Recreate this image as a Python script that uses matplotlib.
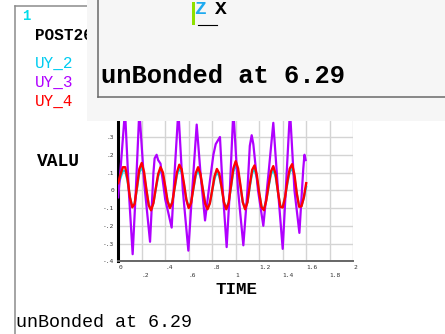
import numpy as np
import matplotlib
matplotlib.use("Agg")
import matplotlib.pyplot as plt
from matplotlib.patches import Rectangle
from matplotlib.lines import Line2D

# sample times of the POST26 variables (s)
time = np.linspace(0, 1.6, 81)

# UY_2 (cyan)
uy2 = [0.03, 0.07, 0.11, 0.11, 0.05, -0.04, -0.092, -0.075, 0.01, 0.10,
       0.13, 0.09, 0.0, -0.082, -0.108, -0.07, 0.008, 0.078, 0.112, 0.088,
       0.018, -0.06, -0.096, -0.068, 0.01, 0.086, 0.123, 0.10, 0.03, -0.052,
       -0.096, -0.07, 0.008, 0.082, 0.112, 0.078, 0.005, -0.073, -0.103, -0.072,
       -0.003, 0.066, 0.103, 0.08, 0.014, -0.066, -0.103, -0.069, 0.018, 0.105,
       0.14, 0.105, 0.023, -0.065, -0.103, -0.067, 0.022, 0.098, 0.12, 0.07,
       -0.016, -0.092, -0.108, -0.057, 0.02, 0.09, 0.116, 0.076, -0.012, -0.09,
       -0.094, -0.04, 0.04, 0.104, 0.125, 0.074, -0.02, -0.09, -0.088, -0.042,
       0.02]

# UY_4 (red)
uy4 = [0.04, 0.09, 0.13, 0.13, 0.06, -0.04, -0.096, -0.076, 0.02, 0.12,
       0.154, 0.104, 0.004, -0.085, -0.113, -0.072, 0.012, 0.091, 0.13, 0.101,
       0.023, -0.061, -0.10, -0.069, 0.014, 0.101, 0.144, 0.118, 0.037, -0.053,
       -0.10, -0.072, 0.012, 0.096, 0.13, 0.092, 0.008, -0.075, -0.107, -0.074,
       0.0, 0.079, 0.12, 0.095, 0.018, -0.068, -0.107, -0.07, 0.024, 0.123,
       0.164, 0.124, 0.029, -0.067, -0.107, -0.068, 0.029, 0.115, 0.14, 0.084,
       -0.014, -0.095, -0.112, -0.058, 0.027, 0.106, 0.136, 0.09, -0.01, -0.093,
       -0.097, -0.039, 0.049, 0.122, 0.147, 0.088, -0.018, -0.093, -0.09, -0.04,
       0.04]

# UY_3 (purple), read at its turning points
uy3_time = [0.0, 0.02, 0.058, 0.09, 0.123, 0.15, 0.18, 0.22, 0.271, 0.30,
            0.31, 0.327, 0.34, 0.36, 0.40, 0.455, 0.48, 0.512, 0.55, 0.597,
            0.63, 0.668, 0.70, 0.739, 0.78, 0.81, 0.83, 0.866, 0.89, 0.923,
            0.95, 0.98, 1.02, 1.065, 1.10, 1.12, 1.136, 1.15, 1.19, 1.235,
            1.28, 1.32, 1.36, 1.40, 1.43, 1.462, 1.50, 1.542, 1.575, 1.585,
            1.595]
uy3 = [-0.04, 0.12, 0.45, 0.0, -0.36, 0.0, 0.45, 0.05, -0.29, 0.1,
       0.18, 0.20, 0.17, 0.15, -0.05, -0.21, 0.1, 0.45, 0.0, -0.34,
       0.0, 0.37, 0.1, -0.17, 0.05, 0.2, 0.26, 0.30, 0.0, -0.32,
       0.0, 0.45, 0.0, -0.31, 0.0, 0.25, 0.31, 0.26, 0.0, -0.20,
       0.1, 0.38, 0.0, -0.33, 0.05, 0.45, 0.0, -0.24, 0.12, 0.2,
       0.17]

x_ticks = [0, 0.2, 0.4, 0.6, 0.8, 1.0, 1.2, 1.4, 1.6, 1.8, 2.0]
x_labels = ["0", "\n.2", ".4", "\n.6", ".8", "\n1", "1.2", "\n1.4", "1.6", "\n1.8", "2"]
y_ticks = [-0.4, -0.3, -0.2, -0.1, 0, 0.1, 0.2, 0.3, 0.4]
y_labels = ["-.4", "-.3", "-.2", "-.1", "0", ".1", ".2", ".3", ".4"]

W, H = 445, 334
MONO = "Liberation Mono"


def fx(x):
    return x / W


def fy(y):
    return 1 - y / H


fig = plt.figure(figsize=(W / 100, H / 100), dpi=100)
fig.patch.set_facecolor("white")

# plot area
ax = fig.add_axes([fx(118.2), fy(261.3), (353.2 - 118.2) / W, (261.3 - 101.5) / H])
ax.set_xlim(0, 2)
ax.set_ylim(-0.4, 0.5)
ax.plot(time, uy2, color="#00e0e8", lw=1.6, zorder=3)
ax.plot(uy3_time, uy3, color="#b000ff", lw=1.6, zorder=4)
ax.plot(time, uy4, color="#ff0000", lw=1.7, zorder=5)

ax.set_xticks(x_ticks)
ax.set_xticklabels(x_labels, ha="left", fontsize=4.5, family="DejaVu Sans Mono",
                   color="#333333", linespacing=1.6)
ax.set_yticks(y_ticks)
ax.set_yticklabels(y_labels, fontsize=4.5, family="DejaVu Sans Mono", color="#333333")
ax.tick_params(length=0, pad=3)
ax.grid(True, color="#d4d4d4", lw=1.0)
ax.set_axisbelow(True)
for side in ["top", "right"]:
    ax.spines[side].set_visible(False)
ax.spines["left"].set_color("black")
ax.spines["left"].set_linewidth(2.2)
ax.spines["bottom"].set_color("#666666")
ax.spines["bottom"].set_linewidth(1.4)

# main window frame
fig.add_artist(Line2D([fx(15), fx(15)], [fy(6), fy(334)], color="#8c8c8c", lw=1.1))
fig.add_artist(Line2D([fx(15), fx(90)], [fy(6), fy(6)], color="#8c8c8c", lw=1.1))

# labels of the graph window
fig.text(fx(22), fy(16), "1", color="#00dcea", fontsize=10, family=MONO, weight="bold", va="center")
fig.text(fx(35), fy(35), "POST26", color="black", fontsize=11.5, family=MONO, weight="bold", va="center")
fig.text(fx(35), fy(63), "UY_2", color="#00ccf0", fontsize=11.5, family=MONO, va="center")
fig.text(fx(35), fy(82), "UY_3", color="#b000ff", fontsize=11.5, family=MONO, va="center")
fig.text(fx(35), fy(101), "UY_4", color="#ff0000", fontsize=11.5, family=MONO, va="center")
fig.text(fx(37), fy(162), "VALU", color="black", fontsize=13, family=MONO, weight="bold", va="center")
fig.text(fx(215), fy(290), "TIME", color="black", fontsize=12.6, family=MONO, weight="bold", va="center")
fig.text(fx(16), fy(327), "unBonded at 6.29", color="black", fontsize=13.2, family=MONO, va="baseline")

# overlapping window on top
fig.add_artist(Rectangle((fx(87), fy(121)), (W - 87) / W, 121 / H, transform=fig.transFigure,
                         facecolor="#f6f6f6", edgecolor="none", zorder=10))
fig.add_artist(Line2D([fx(97.5), fx(97.5)], [fy(0), fy(96.5)], color="#6a6a6a", lw=1.1, zorder=11))
fig.add_artist(Line2D([fx(97.5), fx(W)], [fy(96.5), fy(96.5)], color="#6a6a6a", lw=1.1, zorder=11))
fig.add_artist(Rectangle((fx(192), fy(25)), 2.5 / W, 23 / H, transform=fig.transFigure,
                         facecolor="#8ee000", edgecolor="none", zorder=11))
fig.add_artist(Line2D([fx(198), fx(217)], [fy(25), fy(25)], color="black", lw=0.8, zorder=11))
fig.text(fx(194), fy(9), "Z", color="#1eaaf0", fontsize=14, family=MONO, weight="bold",
         va="center", zorder=12)
fig.text(fx(215), fy(9), "X", color="black", fontsize=14, family=MONO, weight="bold",
         va="center", zorder=12)
fig.text(fx(101), fy(83), "unBonded at 6.29", color="black", fontsize=18.4, family=MONO,
         weight="bold", va="baseline", zorder=12)

fig.savefig("out.png", dpi=100)
